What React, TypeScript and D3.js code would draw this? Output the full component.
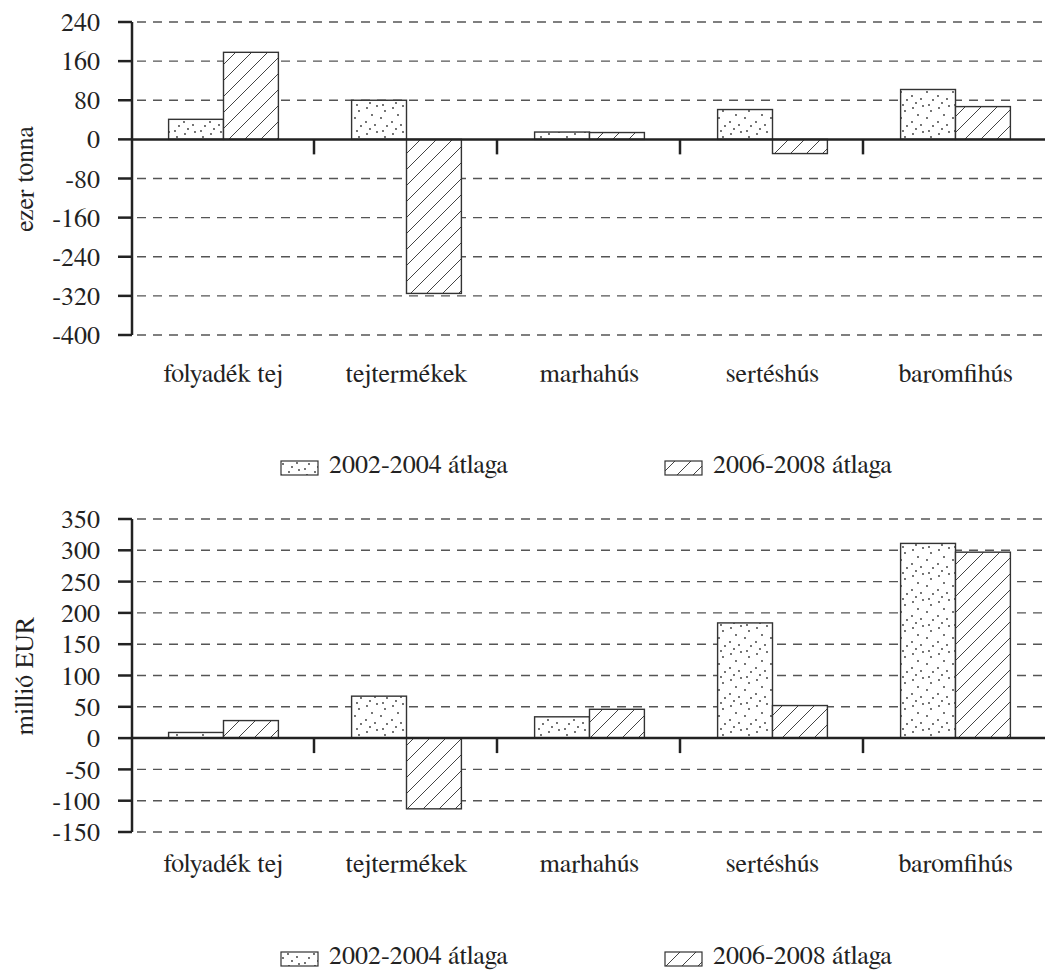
import React, { useEffect } from 'react'
import * as d3 from 'd3'

const categories = ['folyadék tej', 'tejtermékek', 'marhahús', 'sertéshús', 'baromfihús']
const seriesNames = ['2002-2004 átlaga', '2006-2008 átlaga']

// ezer tonna
const volume2002 = [41, 80, 15, 61, 102]
const volume2006 = [178, -315, 14, -29, 67]

// millió EUR
const value2002 = [9, 67, 34, 184, 311]
const value2006 = [28, -113, 46, 52, 297]

const volumeTicks = d3.range(-400, 241, 80)
const valueTicks = d3.range(-150, 351, 50)

const W = 1045
const H = 971
const FONT = 'FreeSerif, Liberation Serif, serif'
const FS = 26
const axisX = 132
const bandW = 183

interface PanelProps {
  series: number[][]
  ticks: number[]
  top: number
  bottom: number
  title: string
  titleY: number
  labelY: number
  legendY: number
}

const Panel: React.FC<PanelProps> = ({ series, ticks, top, bottom, title, titleY, labelY, legendY }) => {
  const y = d3
    .scaleLinear()
    .domain([ticks[0], ticks[ticks.length - 1]])
    .range([bottom, top])
  const x = d3
    .scaleBand<string>()
    .domain(categories)
    .range([axisX, axisX + bandW * categories.length])
  const xs = d3
    .scaleBand<number>()
    .domain(d3.range(series.length))
    .range([bandW * 0.2, bandW * 0.8])
  const y0 = y(0)
  const fills = ['url(#dots)', 'url(#hatch)']

  return (
    <g>
      {/* grid */}
      {ticks
        .filter((t) => t !== 0)
        .map((t) => (
          <line
            key={'g' + t}
            x1={axisX + 5}
            x2={W}
            y1={y(t)}
            y2={y(t)}
            stroke="#555"
            strokeWidth={1.4}
            strokeDasharray="9,7"
          />
        ))}
      {/* bars */}
      {series.map((vals, si) =>
        vals.map((v, ci) => {
          const bx = (x(categories[ci]) || 0) + (xs(si) || 0)
          return (
            <rect
              key={si + '-' + ci}
              x={bx}
              y={Math.min(y(v), y0)}
              width={xs.bandwidth()}
              height={Math.abs(y(v) - y0)}
              fill={fills[si]}
              stroke="#333"
              strokeWidth={1.4}
            />
          )
        }),
      )}
      {/* y axis */}
      <line x1={axisX} x2={axisX} y1={top} y2={bottom} stroke="#222" strokeWidth={2.5} />
      {ticks.map((t) => (
        <g key={'t' + t}>
          <line x1={axisX - 14} x2={axisX} y1={y(t)} y2={y(t)} stroke="#222" strokeWidth={2.5} />
          <text x={axisX - 32} y={y(t)} dy="0.35em" textAnchor="end" fontFamily={FONT} fontSize={FS} fill="#222">
            {t}
          </text>
        </g>
      ))}
      {/* zero line + category ticks */}
      <line x1={axisX} x2={W} y1={y0} y2={y0} stroke="#222" strokeWidth={2.5} />
      {categories.slice(1).map((c) => (
        <line
          key={'c' + c}
          x1={(x(c) || 0) - 1}
          x2={(x(c) || 0) - 1}
          y1={y0}
          y2={y0 + 15}
          stroke="#222"
          strokeWidth={2.5}
        />
      ))}
      {categories.map((c) => (
        <text
          key={'l' + c}
          x={(x(c) || 0) + x.bandwidth() / 2}
          y={labelY}
          textAnchor="middle"
          fontFamily={FONT}
          fontSize={FS}
          fill="#222"
        >
          {c}
        </text>
      ))}
      <text
        transform={`translate(33,${titleY}) rotate(-90)`}
        textAnchor="middle"
        fontFamily={FONT}
        fontSize={FS}
        fill="#222"
      >
        {title}
      </text>
      {/* legend */}
      {seriesNames.map((name, i) => {
        const lx = i === 0 ? 281 : 665
        return (
          <g key={name}>
            <rect
              x={lx}
              y={legendY - 12}
              width={37}
              height={14}
              fill={fills[i]}
              stroke="#333"
              strokeWidth={1.2}
            />
            <text x={lx + 48} y={legendY} fontFamily={FONT} fontSize={FS} fill="#222">
              {name}
            </text>
          </g>
        )
      })}
    </g>
  )
}

export default function App() {
  useEffect(() => {
    document.body.style.margin = '0'
  }, [])
  return (
    <svg width={W} height={H} style={{ display: 'block', background: '#fff' }}>
      <defs>
        <pattern id="dots" patternUnits="userSpaceOnUse" width={26} height={26}>
          <rect width={26} height={26} fill="#fff" />
          {[
            [3, 4],
            [13, 2],
            [21, 7],
            [8, 11],
            [17, 14],
            [2, 18],
            [11, 21],
            [23, 22],
            [6, 25],
            [19, 1],
          ].map(([cx, cy], i) => (
            <circle key={i} cx={cx} cy={cy} r={0.9} fill="#333" />
          ))}
        </pattern>
        <pattern id="hatch" patternUnits="userSpaceOnUse" width={16} height={16}>
          <rect width={16} height={16} fill="#fff" />
          <path d="M0,16 L16,0 M-4,4 L4,-4 M12,20 L20,12" stroke="#444" strokeWidth={1} />
        </pattern>
      </defs>
      <Panel
        series={[volume2002, volume2006]}
        ticks={volumeTicks}
        top={22}
        bottom={335}
        title="ezer tonna"
        titleY={179}
        labelY={382}
        legendY={473}
      />
      <Panel
        series={[value2002, value2006]}
        ticks={valueTicks}
        top={519}
        bottom={832}
        title="millió EUR"
        titleY={676}
        labelY={872}
        legendY={964}
      />
    </svg>
  )
}
